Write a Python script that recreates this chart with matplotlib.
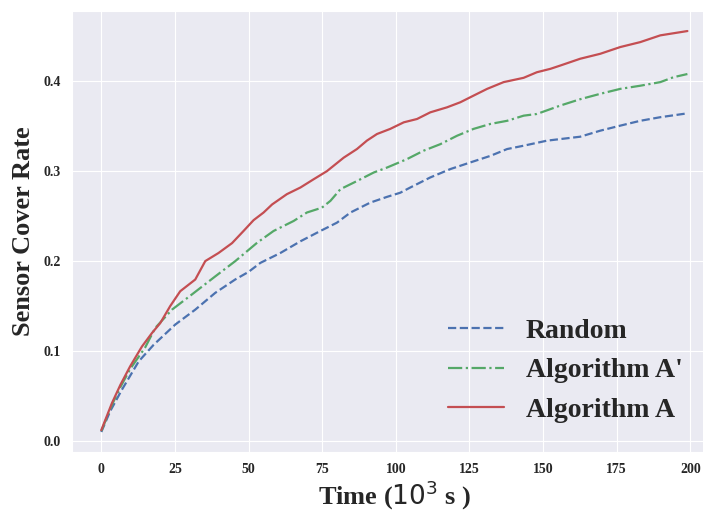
import numpy as np
import seaborn as sns
from matplotlib import pyplot as plt

# values (time in 10^3 s)
t_random = [0, 3, 7, 12.7, 17.8, 25.1, 31.9, 38.7, 45.5, 50, 54, 60.8, 67.6, 74.4, 80, 84.6,
            91.3, 97, 101.5, 104.9, 111.7, 118.5, 125.3, 132.1, 137.8, 143.4, 151.3, 155.9,
            162.6, 169.4, 176.2, 183, 189.8, 199]
random_rate = [0.010, 0.033, 0.057, 0.0885, 0.107, 0.1294, 0.146, 0.1647, 0.1796, 0.188, 0.198,
               0.209, 0.222, 0.2335, 0.2427, 0.254, 0.265, 0.2714, 0.276, 0.2818, 0.293, 0.3023,
               0.3097, 0.317, 0.3246, 0.3283, 0.3339, 0.3357, 0.3383, 0.345, 0.3506, 0.356,
               0.360, 0.3643]

t_alg_a2 = [0, 3.6, 6.5, 9.8, 14.9, 18.3, 24, 30.8, 38.7, 45.5, 52.9, 58.5, 65.3, 69.8, 74.9,
            77.8, 81.2, 86.8, 92.5, 97, 103.8, 109.4, 115.1, 120.8, 126.4, 132.1, 137.8, 143.4,
            147.9, 152.5, 155.9, 162.6, 169.4, 176.2, 183, 189.8, 194.3, 199]
alg_a2_rate = [0.011, 0.040, 0.060, 0.080, 0.104, 0.1256, 0.146, 0.163, 0.183, 0.200, 0.2204,
               0.2335, 0.2446, 0.254, 0.2594, 0.267, 0.280, 0.289, 0.2985, 0.304, 0.3134,
               0.3227, 0.330, 0.3394, 0.347, 0.3525, 0.356, 0.3617, 0.3636, 0.369, 0.373,
               0.380, 0.386, 0.3915, 0.395, 0.399, 0.4045, 0.408]

t_alg_a = [0, 3.6, 6.5, 9.8, 13.8, 17.2, 20, 23.4, 26.8, 31.9, 35.3, 39.8, 44.4, 48.3, 51.7,
           55.1, 58, 63, 67.6, 72.1, 76.6, 82.3, 86.8, 90.2, 93.6, 98.1, 102.7, 107.2, 111.7,
           117.4, 121.9, 126.4, 131, 136.6, 143.4, 147.9, 152.5, 155.9, 162.6, 169.4, 176.2,
           183, 189.8, 199]
alg_a_rate = [0.012, 0.042, 0.0625, 0.083, 0.105, 0.120, 0.131, 0.150, 0.1665, 0.1795, 0.200,
              0.209, 0.220, 0.2335, 0.2455, 0.254, 0.263, 0.2744, 0.2818, 0.291, 0.300, 0.315,
              0.3246, 0.334, 0.3413, 0.347, 0.3543, 0.358, 0.3654, 0.371, 0.3766, 0.384,
              0.3915, 0.399, 0.4038, 0.410, 0.4138, 0.4175, 0.425, 0.4305, 0.438, 0.4435,
              0.451, 0.4558]

sns.set_style("darkgrid")
plt.rcParams['font.family'] = ['Liberation Serif', 'DejaVu Serif']
plt.rcParams['font.weight'] = 'bold'
plt.rcParams['mathtext.fontset'] = 'custom'
plt.rcParams['mathtext.rm'] = 'DejaVu Sans:normal'
plt.rcParams['mathtext.it'] = 'DejaVu Sans:italic:normal'
plt.rcParams['mathtext.bf'] = 'DejaVu Sans:bold'

fig = plt.figure(figsize=(7.03, 5.11), dpi=100)
ax = fig.add_axes([72 / 703, 59 / 511, 644.7 / 703, 441 / 511])

ax.plot(t_random, random_rate, "--", color="#4c72b0", lw=1.6, label="Random")
ax.plot(t_alg_a2, alg_a2_rate, "-.", color="#55a868", lw=1.6, label="Algorithm A'")
ax.plot(t_alg_a, alg_a_rate, "-", color="#c44e52", lw=1.6, label="Algorithm A")

ax.set_xticks([0, 25, 50, 75, 100, 125, 150, 175, 200])
ax.set_yticks([0.0, 0.1, 0.2, 0.3, 0.4])
ax.tick_params(length=0, labelsize=10, pad=8)
for lab in ax.get_xticklabels() + ax.get_yticklabels():
    lab.set_fontweight('bold')

ax.set_xlabel("Time ($\\mathrm{10^3}$ s )", fontsize=19, fontweight='bold', labelpad=2)
ax.set_ylabel("Sensor Cover Rate", fontsize=19, fontweight='bold', labelpad=6)

ax.legend(loc="lower right", bbox_to_anchor=(0.987, 0.151), bbox_transform=fig.transFigure,
          borderaxespad=0, frameon=False, prop={'size': 20, 'weight': 'bold'})

fig.savefig("out.png", dpi=100)
